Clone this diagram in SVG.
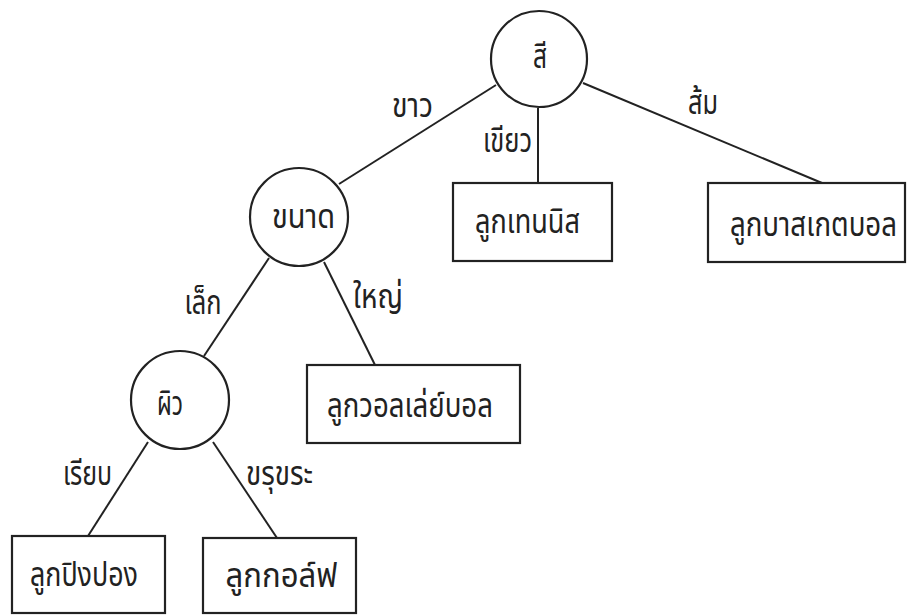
<svg xmlns="http://www.w3.org/2000/svg" width="912" height="616" viewBox="0 0 912 616">
<style>
.n{fill:#fff;stroke:#222;stroke-width:2.2}
.e{stroke:#222;stroke-width:2;fill:none}
text{font-family:"Noto Sans","Noto Sans Thai","DejaVu Sans",sans-serif;font-size:33px;fill:#222;text-anchor:middle}
</style>
<rect width="912" height="616" fill="#fff"/>
<g id="connectors">
<line class="e" x1="496" y1="85" x2="339" y2="184"/>
<line class="e" x1="538" y1="108" x2="538" y2="183"/>
<line class="e" x1="583" y1="83" x2="822" y2="183"/>
<line class="e" x1="269" y1="258" x2="204" y2="356"/>
<line class="e" x1="324" y1="262" x2="375" y2="365"/>
<line class="e" x1="148" y1="442" x2="88" y2="536"/>
<line class="e" x1="213" y1="442" x2="277" y2="538"/>
<text x="412.5" y="117" textLength="41" lengthAdjust="spacingAndGlyphs">ขาว</text>
<text x="507.5" y="152" textLength="49" lengthAdjust="spacingAndGlyphs">เขียว</text>
<text x="703" y="114" textLength="30" lengthAdjust="spacingAndGlyphs">ส้ม</text>
<text x="203" y="314" textLength="37" lengthAdjust="spacingAndGlyphs">เล็ก</text>
<text x="378" y="308" textLength="50" lengthAdjust="spacingAndGlyphs">ใหญ่</text>
<text x="87.5" y="485" textLength="49" lengthAdjust="spacingAndGlyphs">เรียบ</text>
<text x="279.5" y="485" textLength="67" lengthAdjust="spacingAndGlyphs">ขรุขระ</text>
</g>
<g id="node-color">
<circle class="n" cx="539" cy="59" r="48"/>
<text x="540" y="68" textLength="14" lengthAdjust="spacingAndGlyphs">สี</text>
</g>
<g id="node-size">
<circle class="n" cx="299" cy="217" r="49"/>
<text x="303.5" y="228" textLength="63" lengthAdjust="spacingAndGlyphs">ขนาด</text>
</g>
<g id="node-skin">
<circle class="n" cx="180" cy="400" r="49"/>
<text x="170" y="415" textLength="26" lengthAdjust="spacingAndGlyphs">ผิว</text>
</g>
<g id="leaf-tennis">
<rect class="n" x="453" y="183" width="159" height="78"/>
<text x="527.5" y="233" textLength="105" lengthAdjust="spacingAndGlyphs">ลูกเทนนิส</text>
</g>
<g id="leaf-basketball">
<rect class="n" x="708" y="183" width="197" height="79"/>
<text transform="translate(813.5 236) scale(0.84 1)" x="0" y="0">ลูกบาสเกตบอล</text>
</g>
<g id="leaf-volleyball">
<rect class="n" x="307" y="365" width="213" height="78"/>
<text x="410" y="417" textLength="166" lengthAdjust="spacingAndGlyphs">ลูกวอลเล่ย์บอล</text>
</g>
<g id="leaf-pingpong">
<rect class="n" x="12" y="536" width="153" height="77"/>
<text x="84" y="586" textLength="108" lengthAdjust="spacingAndGlyphs">ลูกปิงปอง</text>
</g>
<g id="leaf-golf">
<rect class="n" x="203" y="538" width="153" height="75"/>
<text x="281.5" y="587" textLength="112" lengthAdjust="spacingAndGlyphs">ลูกกอล์ฟ</text>
</g>
</svg>
